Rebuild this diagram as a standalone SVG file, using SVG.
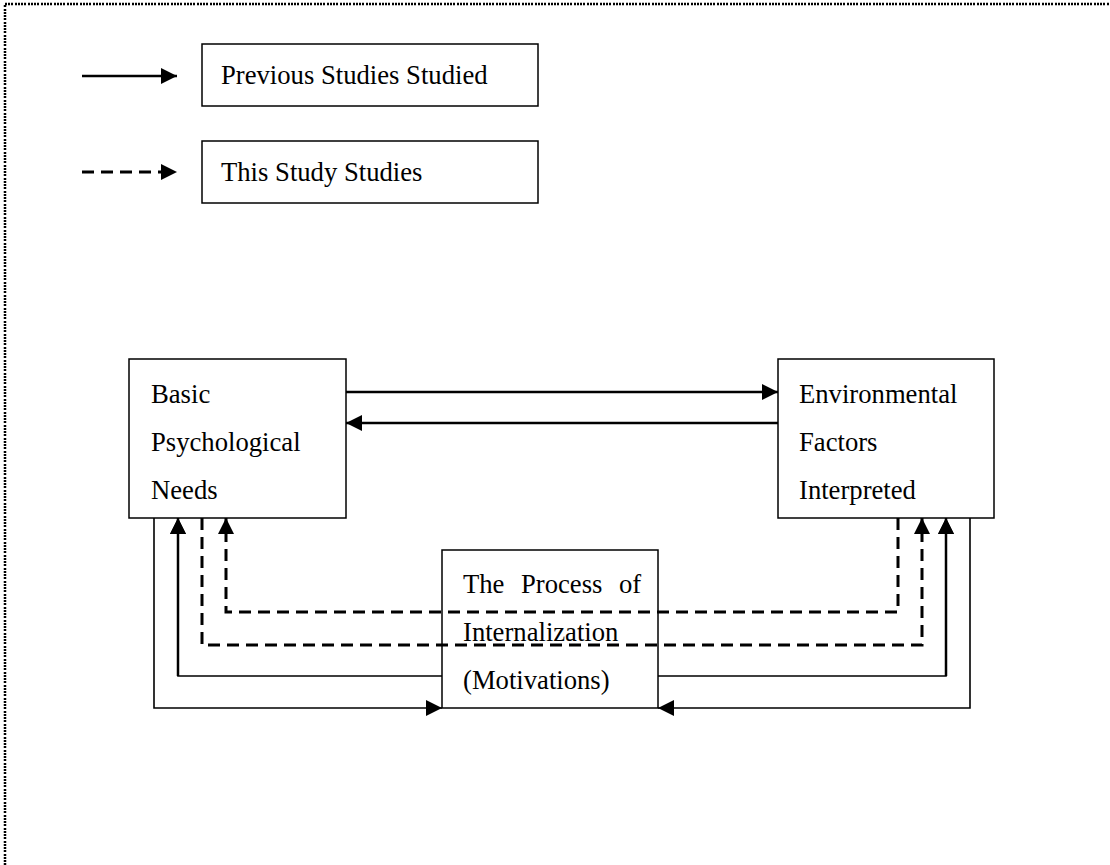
<svg xmlns="http://www.w3.org/2000/svg" width="1110" height="865" viewBox="0 0 1110 865">
  <defs>
    <marker id="arr" viewBox="0 0 16 16" refX="16" refY="8" markerWidth="16" markerHeight="16" markerUnits="userSpaceOnUse" orient="auto">
      <path d="M0,0 L16,8 L0,16 z" fill="#000"/>
    </marker>
    <style>
      .box { fill: #fff; stroke: #000; stroke-width: 1.5; }
      .lbl { font-family: "Liberation Serif", "Times New Roman", serif; font-size: 26.67px; fill: #000; }
      .solid { fill: none; stroke: #000; stroke-width: 2.5; }
      .thin { fill: none; stroke: #000; stroke-width: 1.6; }
      .dash { fill: none; stroke: #000; stroke-width: 3; stroke-dasharray: 12 7; }
      .border { fill: none; stroke: #000; stroke-width: 2.5; stroke-dasharray: 2 1 2 1 2 1 2 2; }
    </style>
  </defs>
  <rect width="1110" height="865" fill="#fff"/>
  <path class="border" d="M5,865 V4 H1110"/>

  <g id="legend-solid">
    <line class="solid" x1="82" y1="76" x2="177" y2="76" stroke-width="3" marker-end="url(#arr)"/>
    <rect class="box" x="202" y="44" width="336" height="62"/>
    <text class="lbl" x="221" y="84">Previous Studies Studied</text>
  </g>
  <g id="legend-dashed">
    <line class="dash" x1="82" y1="172" x2="177" y2="172" stroke-dasharray="12.5 6.5" marker-end="url(#arr)"/>
    <rect class="box" x="202" y="141" width="336" height="62"/>
    <text class="lbl" x="221" y="181">This Study Studies</text>
  </g>

  <g id="node-basic">
    <rect class="box" x="129" y="359" width="217" height="159"/>
    <text class="lbl" x="151" y="403">Basic</text>
    <text class="lbl" x="151" y="451">Psychological</text>
    <text class="lbl" x="151" y="499">Needs</text>
  </g>
  <g id="node-environmental">
    <rect class="box" x="778" y="359" width="216" height="159"/>
    <text class="lbl" x="799" y="403">Environmental</text>
    <text class="lbl" x="799" y="451">Factors</text>
    <text class="lbl" x="799" y="499">Interpreted</text>
  </g>
  <g id="node-process">
    <rect class="box" x="442" y="550" width="216" height="158"/>
    <text class="lbl" y="593"><tspan x="463">The</tspan><tspan x="521">Process</tspan><tspan x="619">of</tspan></text>
    <text class="lbl" x="463" y="641">Internalization</text>
    <text class="lbl" x="463" y="689">(Motivations)</text>
  </g>

  <g id="connectors">
    <path class="solid" d="M346,392 H778" marker-end="url(#arr)"/>
    <path class="solid" d="M778,423 H346" marker-end="url(#arr)"/>
    <path class="thin" d="M154,518 V708 H442" marker-end="url(#arr)"/>
    <path class="thin" d="M442,676 H178 V518" marker-end="url(#arr)"/>
    <path class="solid" d="M178,676 V518" marker-end="url(#arr)"/>
    <path class="dash" d="M898,518 V612 H226 V518" marker-end="url(#arr)"/>
    <path class="dash" d="M202,518 V645 H922 V518" marker-end="url(#arr)"/>
    <path class="thin" d="M658,676 H946 V518" marker-end="url(#arr)"/>
    <path class="solid" d="M946,676 V518" marker-end="url(#arr)"/>
    <path class="thin" d="M970,518 V708 H658" marker-end="url(#arr)"/>
  </g>
</svg>
